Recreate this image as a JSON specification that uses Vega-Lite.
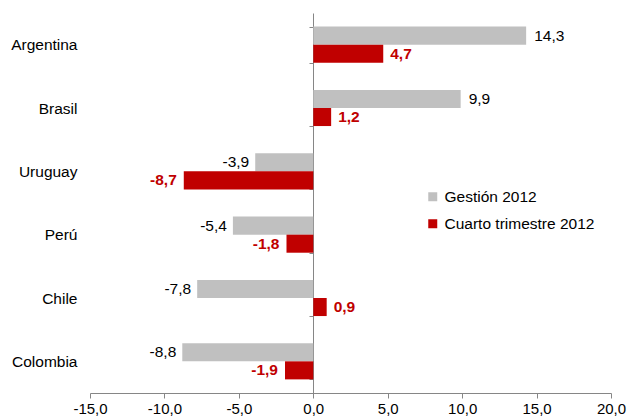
{
  "$schema": "https://vega.github.io/schema/vega-lite/v6.json",
  "width": 521,
  "height": 380,
  "autosize": {"type": "none"},
  "padding": {"left": 90, "top": 13, "right": 17, "bottom": 25},
  "background": "white",
  "config": {
    "view": {"stroke": null},
    "font": "Liberation Sans",
    "locale": {
      "number": {"decimal": ",", "thousands": ".", "grouping": [3], "currency": ["", " €"], "minus": "-"}
    }
  },
  "data": {
    "values": [
      {"pais": "Argentina", "serie": "Gestión 2012", "valor": 14.3},
      {"pais": "Argentina", "serie": "Cuarto trimestre 2012", "valor": 4.7},
      {"pais": "Brasil", "serie": "Gestión 2012", "valor": 9.9},
      {"pais": "Brasil", "serie": "Cuarto trimestre 2012", "valor": 1.2},
      {"pais": "Uruguay", "serie": "Gestión 2012", "valor": -3.9},
      {"pais": "Uruguay", "serie": "Cuarto trimestre 2012", "valor": -8.7},
      {"pais": "Perú", "serie": "Gestión 2012", "valor": -5.4},
      {"pais": "Perú", "serie": "Cuarto trimestre 2012", "valor": -1.8},
      {"pais": "Chile", "serie": "Gestión 2012", "valor": -7.8},
      {"pais": "Chile", "serie": "Cuarto trimestre 2012", "valor": 0.9},
      {"pais": "Colombia", "serie": "Gestión 2012", "valor": -8.8},
      {"pais": "Colombia", "serie": "Cuarto trimestre 2012", "valor": -1.9}
    ]
  },
  "encoding": {
    "y": {
      "field": "pais",
      "type": "nominal",
      "sort": ["Argentina", "Brasil", "Uruguay", "Perú", "Chile", "Colombia"],
      "scale": {"paddingInner": 0.43, "paddingOuter": 0.215},
      "axis": {
        "title": null,
        "offset": -223,
        "tickBand": "extent",
        "tickSize": 4,
        "tickColor": "#868686",
        "domainColor": "#868686",
        "labelPadding": 232,
        "labelFontSize": 15.5,
        "labelColor": "#000000"
      }
    },
    "yOffset": {
      "field": "serie",
      "type": "nominal",
      "sort": ["Gestión 2012", "Cuarto trimestre 2012"],
      "scale": {"paddingInner": 0, "paddingOuter": 0}
    },
    "x": {
      "field": "valor",
      "type": "quantitative",
      "scale": {"domain": [-15, 20], "nice": false, "zero": false},
      "axis": {
        "title": null,
        "values": [-15, -10, -5, 0, 5, 10, 15, 20],
        "format": ".1f",
        "grid": false,
        "labelFlush": false,
        "labelOverlap": false,
        "tickSize": 5,
        "tickColor": "#868686",
        "domainColor": "#868686",
        "labelFontSize": 15,
        "labelColor": "#000000",
        "labelPadding": 3
      }
    }
  },
  "layer": [
    {
      "mark": {"type": "bar"},
      "encoding": {
        "color": {
          "field": "serie",
          "type": "nominal",
          "sort": ["Gestión 2012", "Cuarto trimestre 2012"],
          "scale": {"domain": ["Gestión 2012", "Cuarto trimestre 2012"], "range": ["#C0C0C0", "#C00000"]},
          "legend": {
            "title": null,
            "orient": "none",
            "legendX": 335,
            "legendY": 176,
            "symbolType": "square",
            "symbolSize": 81,
            "symbolStrokeWidth": 0,
            "labelFontSize": 15.5,
            "labelColor": "#000000",
            "labelOffset": 4,
            "rowPadding": 10,
            "padding": 0
          }
        }
      }
    },
    {
      "transform": [{"filter": "datum.serie === 'Gestión 2012' && datum.valor >= 0"}],
      "mark": {"type": "text", "align": "left", "dx": 8, "fontSize": 15.5, "color": "#000000"},
      "encoding": {"text": {"field": "valor", "type": "quantitative", "format": ".1f"}}
    },
    {
      "transform": [{"filter": "datum.serie === 'Gestión 2012' && datum.valor < 0"}],
      "mark": {"type": "text", "align": "right", "dx": -6, "fontSize": 15.5, "color": "#000000"},
      "encoding": {"text": {"field": "valor", "type": "quantitative", "format": ".1f"}}
    },
    {
      "transform": [{"filter": "datum.serie === 'Cuarto trimestre 2012' && datum.valor >= 0"}],
      "mark": {"type": "text", "align": "left", "dx": 7, "fontSize": 15.5, "fontWeight": "bold", "color": "#C00000"},
      "encoding": {"text": {"field": "valor", "type": "quantitative", "format": ".1f"}}
    },
    {
      "transform": [{"filter": "datum.serie === 'Cuarto trimestre 2012' && datum.valor < 0"}],
      "mark": {"type": "text", "align": "right", "dx": -7, "fontSize": 15.5, "fontWeight": "bold", "color": "#C00000"},
      "encoding": {"text": {"field": "valor", "type": "quantitative", "format": ".1f"}}
    }
  ]
}
